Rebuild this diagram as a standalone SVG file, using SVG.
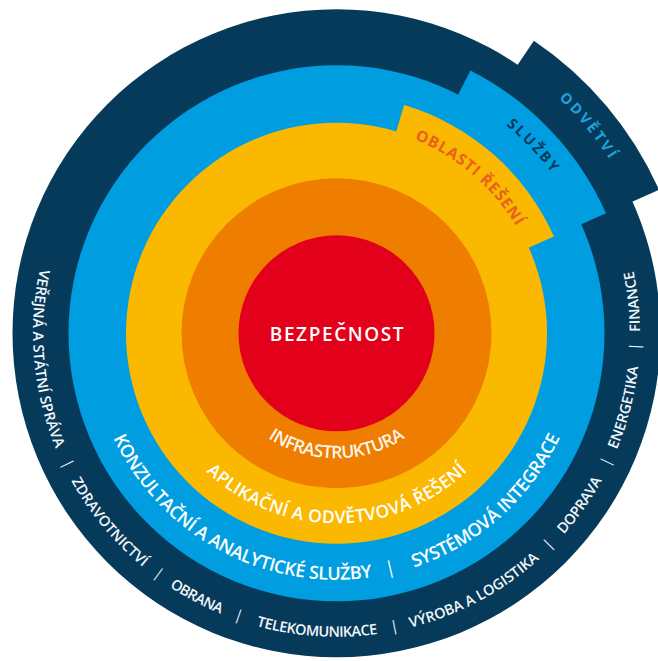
<svg xmlns="http://www.w3.org/2000/svg" xmlns:xlink="http://www.w3.org/1999/xlink" width="658" height="661" viewBox="0 0 658 661">
<style>
.t{font-family:"Open Sans","Noto Sans","DejaVu Sans",sans-serif;font-weight:600;}
.b{font-weight:700;}
.navyt{fill:#f2f6f8;font-size:14.5px;}
.blt{fill:#ffffff;font-size:18px;}
.ylt{fill:#ffffff;font-size:17.5px;}
.ort{fill:#fff6ec;font-size:17.5px;}
.sep{font-weight:400;}
</style>
<defs>
<path id="pInfra" d="M 219.04 290.55 A 125 125 0 1 0 453.96 290.55"/>
<path id="pApl" d="M 157.96 268.32 A 190 190 0 1 0 515.04 268.32"/>
<path id="pKon" d="M 104.87 248.99 A 246.5 246.5 0 1 0 568.13 248.99"/>
<path id="pNavy" d="M 51.30 229.50 A 303.5 303.5 0 1 0 621.70 229.50"/>
<path id="pObl" d="M 300.21 127.47 A 209 209 0 0 1 542.33 369.59"/>
<path id="pSlu" d="M 289.88 68.88 A 268.5 268.5 0 0 1 600.92 379.92"/>
<path id="pOdv" d="M 280.32 14.71 A 323.5 323.5 0 0 1 655.09 389.48"/>
</defs>

<g id="ring-odvetvi">
<circle cx="336.5" cy="333.3" r="324" fill="#063a5b"/>
<path d="M 336.5 333.3 L 533.89 40.65 A 353 353 0 0 1 658.98 189.72 Z" fill="#063a5b"/>
<text class="t b" font-size="14.5" fill="#1ea3df"><textPath xlink:href="#pOdv" href="#pOdv" startOffset="341" text-anchor="middle" textLength="79" lengthAdjust="spacing">ODVĚTVÍ</textPath></text>
<g class="t navyt">
<text><textPath href="#pNavy" xlink:href="#pNavy" startOffset="132.7" text-anchor="middle" textLength="183" lengthAdjust="spacing">VEŘEJNÁ A STÁTNÍ SPRÁVA</textPath></text>
<text class="sep"><textPath href="#pNavy" xlink:href="#pNavy" startOffset="243.1" text-anchor="middle">|</textPath></text>
<text><textPath href="#pNavy" xlink:href="#pNavy" startOffset="316.2" text-anchor="middle" textLength="113" lengthAdjust="spacing">ZDRAVOTNICTVÍ</textPath></text>
<text class="sep"><textPath href="#pNavy" xlink:href="#pNavy" startOffset="389.3" text-anchor="middle">|</textPath></text>
<text><textPath href="#pNavy" xlink:href="#pNavy" startOffset="434.6" text-anchor="middle" textLength="58" lengthAdjust="spacing">OBRANA</textPath></text>
<text class="sep"><textPath href="#pNavy" xlink:href="#pNavy" startOffset="481.5" text-anchor="middle">|</textPath></text>
<text><textPath href="#pNavy" xlink:href="#pNavy" startOffset="562.6" text-anchor="middle" textLength="122.6" lengthAdjust="spacing">TELEKOMUNIKACE</textPath></text>
<text class="sep"><textPath href="#pNavy" xlink:href="#pNavy" startOffset="641.7" text-anchor="middle">|</textPath></text>
<text><textPath href="#pNavy" xlink:href="#pNavy" startOffset="731" text-anchor="middle" textLength="147.5" lengthAdjust="spacing">VÝROBA A LOGISTIKA</textPath></text>
<text class="sep"><textPath href="#pNavy" xlink:href="#pNavy" startOffset="821.6" text-anchor="middle">|</textPath></text>
<text><textPath href="#pNavy" xlink:href="#pNavy" startOffset="872.4" text-anchor="middle" textLength="66.5" lengthAdjust="spacing">DOPRAVA</textPath></text>
<text class="sep"><textPath href="#pNavy" xlink:href="#pNavy" startOffset="924.3" text-anchor="middle">|</textPath></text>
<text><textPath href="#pNavy" xlink:href="#pNavy" startOffset="982.6" text-anchor="middle" textLength="85.8" lengthAdjust="spacing">ENERGETIKA</textPath></text>
<text class="sep"><textPath href="#pNavy" xlink:href="#pNavy" startOffset="1045.6" text-anchor="middle">|</textPath></text>
<text><textPath href="#pNavy" xlink:href="#pNavy" startOffset="1091.2" text-anchor="middle" textLength="61.2" lengthAdjust="spacing">FINANCE</textPath></text>
</g>
</g>

<g id="ring-sluzby">
<circle cx="336.5" cy="333.3" r="268" fill="#009ee0"/>
<path d="M 336.5 333.3 L 470.43 70.45 A 295 295 0 0 1 606.00 213.31 Z" fill="#009ee0"/>
<text class="t b" font-size="14.5" fill="#063a5b"><textPath href="#pSlu" xlink:href="#pSlu" startOffset="263.4" text-anchor="middle" textLength="66" lengthAdjust="spacing">SLUŽBY</textPath></text>
<g class="t blt">
<text><textPath href="#pKon" xlink:href="#pKon" startOffset="351.5" text-anchor="middle" textLength="315" lengthAdjust="spacing">KONZULTAČNÍ A ANALYTICKÉ SLUŽBY</textPath></text>
<text class="sep"><textPath href="#pKon" xlink:href="#pKon" startOffset="528.3" text-anchor="middle">|</textPath></text>
<text><textPath href="#pKon" xlink:href="#pKon" startOffset="652.2" text-anchor="middle" textLength="201" lengthAdjust="spacing">SYSTÉMOVÁ INTEGRACE</textPath></text>
</g>
</g>

<g id="ring-oblasti">
<circle cx="336.5" cy="333.3" r="210.5" fill="#fbb800"/>
<path d="M 336.5 333.3 L 404.10 105.10 A 238 238 0 0 1 553.93 236.50 Z" fill="#fbb800"/>
<text class="t b" font-size="15.5" fill="#e8601e"><textPath href="#pObl" xlink:href="#pObl" startOffset="184.2" text-anchor="middle" textLength="136" lengthAdjust="spacing">OBLASTI ŘEŠENÍ</textPath></text>
<text class="t ylt"><textPath href="#pApl" xlink:href="#pApl" startOffset="364.8" text-anchor="middle" textLength="288" lengthAdjust="spacing">APLIKAČNÍ A ODVĚTVOVÁ ŘEŠENÍ</textPath></text>
</g>

<g id="ring-infrastruktura">
<circle cx="336.5" cy="333.3" r="155" fill="#ef7d00"/>
<text class="t ort"><textPath href="#pInfra" xlink:href="#pInfra" startOffset="240" text-anchor="middle" textLength="145" lengthAdjust="spacing">INFRASTRUKTURA</textPath></text>
</g>

<g id="core-bezpecnost">
<circle cx="336.5" cy="333.3" r="98" fill="#e2001a"/>
<text class="t" x="337.5" y="340.5" font-size="19" fill="#ffffff" letter-spacing="1.6" text-anchor="middle">BEZPEČNOST</text>
</g>
</svg>
